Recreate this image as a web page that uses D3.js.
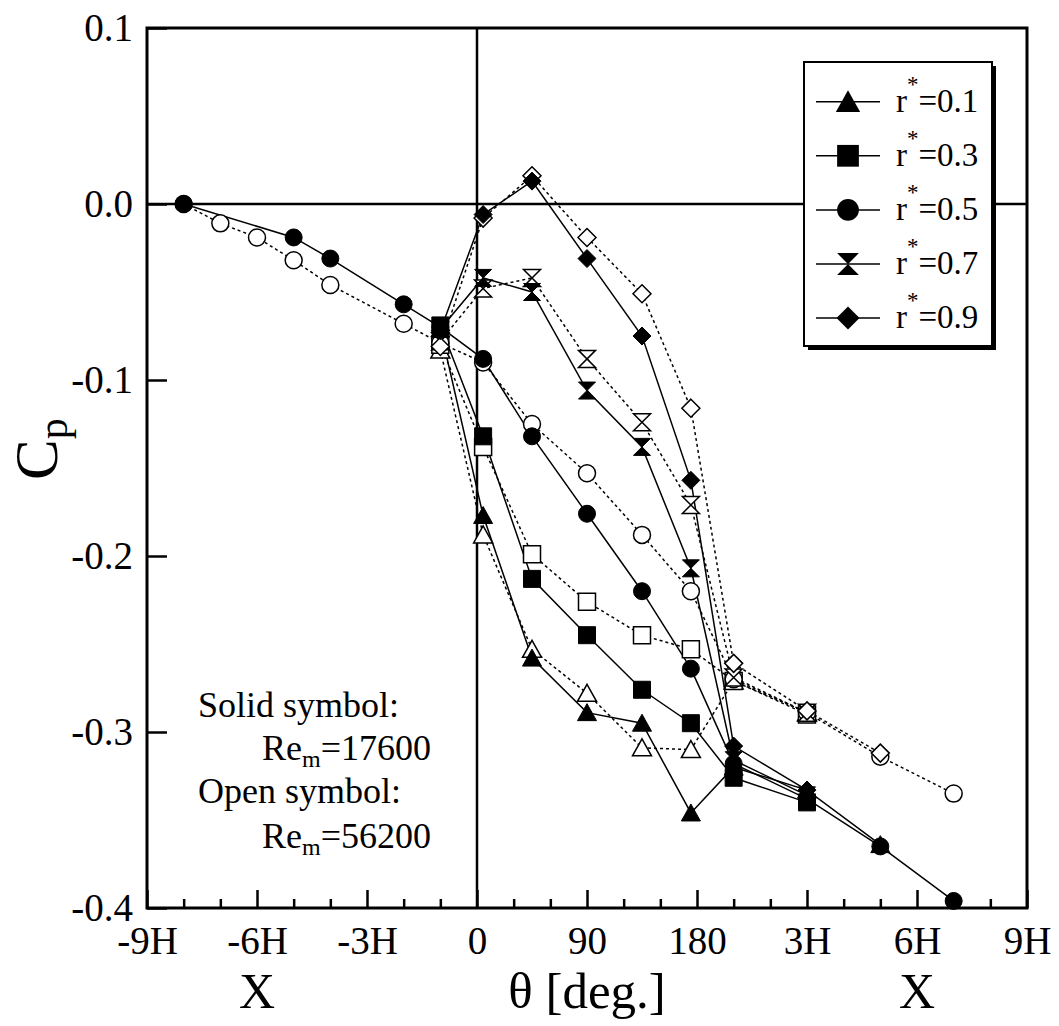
<!DOCTYPE html>
<html>
<head>
  <meta charset="utf-8">
  <title>Cp distribution</title>
  <script src="https://d3js.org/d3.v7.min.js"></script>
  <style>
    body { margin: 0; background: #fff; }
    svg { display: block; }
    text { font-family: "Liberation Serif", "Times New Roman", serif; fill: #000; }
  </style>
</head>
<body>
<svg id="chart"></svg>
<script>
  // stations along the duct: upstream X/H, bend angle theta, downstream X/H
  const upX = [-8, -7, -6, -5, -4, -2, -1];
  const thetaDeg = [5, 45, 90, 135, 175];
  const downX = [1, 3, 5, 7];

  const rStar = ["0.1", "0.3", "0.5", "0.7", "0.9"];
  const symbols = ["triangle", "square", "circle", "hourglass", "diamond"];

  // Cp values, order: upX, thetaDeg, downX (null = not measured)
  const solid01 = [null, null, null, null, null, null, -0.071, -0.177, -0.258, -0.289, -0.295, -0.346, -0.320, -0.333, -0.364, null];
  const open01  = [null, null, null, null, null, null, -0.083, -0.188, -0.253, -0.278, -0.309, -0.310, -0.271, -0.289, null, null];
  const solid03 = [null, null, null, null, null, null, -0.069, -0.132, -0.213, -0.245, -0.276, -0.295, -0.326, -0.340, null, null];
  const open03  = [null, null, null, null, null, null, -0.080, -0.138, -0.199, -0.226, -0.245, -0.253, -0.271, -0.290, null, null];
  const solid05 = [0.0, null, null, -0.019, -0.031, -0.057, -0.070, -0.088, -0.132, -0.176, -0.220, -0.264, -0.318, -0.338, -0.365, -0.396];
  const open05  = [0.0, -0.011, -0.019, -0.032, -0.046, -0.068, -0.079, -0.090, -0.125, -0.153, -0.188, -0.220, -0.270, -0.289, -0.314, -0.335];
  const solid07 = [null, null, null, null, null, null, -0.071, -0.042, -0.050, -0.106, -0.138, -0.207, -0.316, -0.336, null, null];
  const open07  = [null, null, null, null, null, null, -0.078, -0.048, -0.042, -0.088, -0.124, -0.171, -0.269, -0.289, null, null];
  const solid09 = [null, null, null, null, null, null, -0.072, -0.006, 0.013, -0.031, -0.075, -0.157, -0.308, -0.333, null, null];
  const open09  = [null, null, null, null, null, null, -0.081, -0.008, 0.016, -0.019, -0.051, -0.116, -0.261, -0.288, -0.312, null];

  const solidSets = [solid01, solid03, solid05, solid07, solid09];
  const openSets = [open01, open03, open05, open07, open09];

  const xTickLabels = ["-9H", "-6H", "-3H", "0", "90", "180", "3H", "6H", "9H"];
  const yTicks = [0.1, 0.0, -0.1, -0.2, -0.3, -0.4];

  const W = 1059, H = 1026;
  const plotL = 147, plotR = 1027, plotT = 28, plotB = 908;
  const unit = (plotR - plotL) / 8;

  const svg = d3.select("#chart").attr("width", W).attr("height", H);

  // three linear pieces of the x axis
  const xUp = d3.scaleLinear().domain([-9, 0]).range([plotL, plotL + 3 * unit]);
  const xTh = d3.scaleLinear().domain([0, 180]).range([plotL + 3 * unit, plotL + 5 * unit]);
  const xDn = d3.scaleLinear().domain([0, 9]).range([plotL + 5 * unit, plotR]);
  const xAx = d3.scaleLinear().domain([0, 8]).range([plotL, plotR]);
  const y = d3.scaleLinear().domain([-0.4, 0.1]).range([plotB, plotT]);

  const stationX = upX.map(v => xUp(v))
    .concat(thetaDeg.map(v => xTh(v)))
    .concat(downX.map(v => xDn(v)));

  // axes
  const xMajor = d3.axisBottom(xAx).tickValues(d3.range(0, 9))
    .tickSize(-18).tickPadding(18).tickFormat(i => xTickLabels[i]);
  const xMinor = d3.axisBottom(xAx)
    .tickValues(d3.range(0, 24).filter(i => i % 3 !== 0).map(i => i / 3))
    .tickSize(-9).tickFormat("");
  const yAxis = d3.axisLeft(y).tickValues(yTicks).tickSize(-20).tickPadding(14)
    .tickFormat(d => d.toFixed(1));

  function styleAxis(g) {
    g.select(".domain").remove();
    g.selectAll(".tick line").attr("stroke", "#000").attr("stroke-width", 2.5);
    g.selectAll(".tick text").style("font-family", "'Liberation Serif', serif")
      .style("font-size", "39px").attr("fill", "#000");
  }

  svg.append("g").attr("transform", `translate(0,${plotB})`).call(xMinor).call(styleAxis);
  svg.append("g").attr("transform", `translate(0,${plotB})`).call(xMajor).call(styleAxis);
  svg.append("g").attr("transform", `translate(${plotL},0)`).call(yAxis).call(styleAxis);

  // reference lines Cp = 0 and theta = 0
  svg.append("line").attr("x1", plotL).attr("x2", plotR).attr("y1", y(0)).attr("y2", y(0))
    .attr("stroke", "#000").attr("stroke-width", 2.5);
  svg.append("line").attr("x1", xTh(0)).attr("x2", xTh(0)).attr("y1", plotT).attr("y2", plotB)
    .attr("stroke", "#000").attr("stroke-width", 2.5);

  // frame
  svg.append("rect").attr("x", plotL).attr("y", plotT)
    .attr("width", plotR - plotL).attr("height", plotB - plotT)
    .attr("fill", "none").attr("stroke", "#000").attr("stroke-width", 3);

  function markerPath(type) {
    switch (type) {
      case "triangle": return "M0,-9L9.5,8L-9.5,8Z";
      case "square": return "M-8.5,-8.5H8.5V8.5H-8.5Z";
      case "circle": return "M8.5,0A8.5,8.5 0 1,1 -8.5,0A8.5,8.5 0 1,1 8.5,0Z";
      case "hourglass": return "M-8.5,-8.5H8.5L-8.5,8.5H8.5Z";
      case "diamond": return "M0,-9L9,0L0,9L-9,0Z";
    }
  }

  const line = d3.line().x(d => d[0]).y(d => y(d[1]));
  const pts = vals => vals.map((v, i) => [stationX[i], v]).filter(d => d[1] !== null);

  const plot = svg.append("g");

  // lines first (open dotted, solid continuous)
  openSets.forEach(vals => {
    plot.append("path").datum(pts(vals)).attr("d", line)
      .attr("fill", "none").attr("stroke", "#000").attr("stroke-width", 1.5)
      .attr("stroke-dasharray", "3,3");
  });
  solidSets.forEach(vals => {
    plot.append("path").datum(pts(vals)).attr("d", line)
      .attr("fill", "none").attr("stroke", "#000").attr("stroke-width", 1.5);
  });

  // open markers then solid markers on top
  openSets.forEach((vals, k) => {
    plot.selectAll(null).data(pts(vals)).enter().append("path")
      .attr("d", markerPath(symbols[k]))
      .attr("transform", d => `translate(${d[0]},${y(d[1])})`)
      .attr("fill", "#fff").attr("stroke", "#000").attr("stroke-width", 1.5);
  });
  solidSets.forEach((vals, k) => {
    plot.selectAll(null).data(pts(vals)).enter().append("path")
      .attr("d", markerPath(symbols[k]))
      .attr("transform", d => `translate(${d[0]},${y(d[1])})`)
      .attr("fill", "#000").attr("stroke", "#000").attr("stroke-width", 1);
  });

  // legend
  const lg = svg.append("g");
  lg.append("rect").attr("x", 808).attr("y", 66).attr("width", 188).attr("height", 284).attr("fill", "#000");
  lg.append("rect").attr("x", 804).attr("y", 62).attr("width", 188).attr("height", 284)
    .attr("fill", "#fff").attr("stroke", "#000").attr("stroke-width", 2);
  rStar.forEach((r, k) => {
    const base = 111.7 + k * 54.1;
    const cy = base - 10;
    lg.append("line").attr("x1", 816).attr("x2", 880).attr("y1", cy).attr("y2", cy)
      .attr("stroke", "#000").attr("stroke-width", 1.5);
    lg.append("path").attr("d", markerPath(symbols[k]))
      .attr("transform", `translate(848,${cy}) scale(1.28)`).attr("fill", "#000");
    const t = lg.append("text").attr("x", 896).attr("y", base).style("font-size", "33px");
    t.append("tspan").text("r");
    t.append("tspan").attr("dy", -20).style("font-size", "23px").text("*");
    t.append("tspan").attr("dy", 20).text("=" + r);
  });

  // Reynolds number note
  const note = svg.append("g").style("font-size", "36px");
  note.append("text").attr("x", 198).attr("y", 717).text("Solid symbol:");
  const re1 = note.append("text").attr("x", 262).attr("y", 760);
  re1.append("tspan").text("Re");
  re1.append("tspan").attr("dy", 7).style("font-size", "24px").text("m");
  re1.append("tspan").attr("dy", -7).text("=17600");
  note.append("text").attr("x", 198).attr("y", 803).text("Open symbol:");
  const re2 = note.append("text").attr("x", 262).attr("y", 848);
  re2.append("tspan").text("Re");
  re2.append("tspan").attr("dy", 7).style("font-size", "24px").text("m");
  re2.append("tspan").attr("dy", -7).text("=56200");

  // axis titles
  svg.append("text").attr("x", xUp(-6)).attr("y", 1008).attr("text-anchor", "middle")
    .style("font-size", "50px").text("X");
  svg.append("text").attr("x", xTh(90)).attr("y", 1008).attr("text-anchor", "middle")
    .style("font-size", "51px").text("θ [deg.]");
  svg.append("text").attr("x", xDn(6)).attr("y", 1008).attr("text-anchor", "middle")
    .style("font-size", "50px").text("X");

  const yl = svg.append("text").attr("transform", "translate(57,480) rotate(-90)")
    .style("font-size", "61px");
  yl.append("tspan").text("C");
  yl.append("tspan").attr("dy", 10).style("font-size", "42px").text("p");
</script>
</body>
</html>
